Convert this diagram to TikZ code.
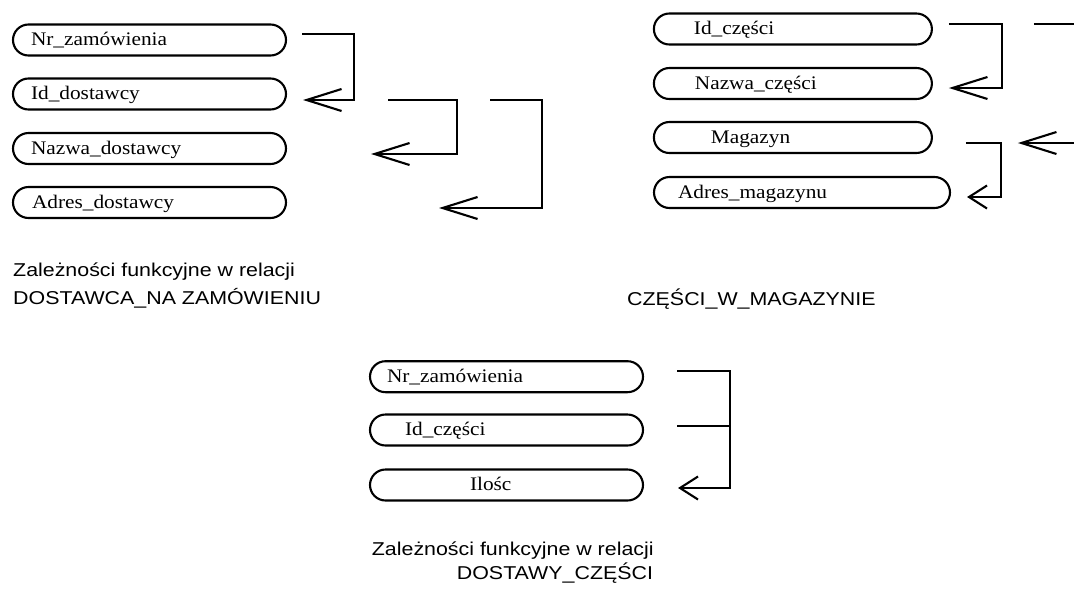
\documentclass[tikz,border=0pt]{standalone}
\usepackage{fontspec}
\newfontfamily\attrfont[FakeStretch=1.11]{Liberation Serif}
\newfontfamily\capfont[FakeStretch=1.15]{Liberation Sans}
\usepackage{tikz}
\usetikzlibrary{arrows.meta}
\tikzstyle{attr}=[draw,line width=2.1pt,rectangle,rounded corners=15.5pt,minimum height=31pt,inner xsep=0pt,inner ysep=0pt,text height=14pt,text depth=3pt,align=left,font=\attrfont\fontsize{19.2pt}{22pt}\selectfont]
\tikzstyle{fd}=[draw,line width=2.1pt,-{Straight Barb[length=35pt,width=22pt]}]
\tikzstyle{fdshort}=[draw,line width=2.1pt,-{Straight Barb[length=18pt,width=23pt]}]
\tikzstyle{fdline}=[draw,line width=2.1pt]
\tikzset{relname/.style={anchor=base west,inner sep=0pt,font=\capfont\fontsize{18.6pt}{22pt}\selectfont}}

\begin{document}
\begin{tikzpicture}[x=1pt,y=-1pt]

   \useasboundingbox (0,0) rectangle (1074,592);

   % DOSTAWCA_NA ZAMOWIENIU
   \foreach \name/\y/\ind/\label in {nrz/40/18/Nr\_zamówienia, idd/94/18/Id\_dostawcy, nzd/148.5/18/Nazwa\_dostawcy, adr/202.5/19/Adres\_dostawcy}
          \node[attr,text width=273pt] (\name) at (149.5,\y) {\hspace*{\ind pt}\label};

   \draw[fd] ([xshift=15pt,yshift=6pt]nrz.east) -- ++(52,0) |- ([xshift=16pt,yshift=-6pt]idd.east);
   \draw[fd] ([xshift=101pt,yshift=-6pt]idd.east) -- ++(69,0) |- ([xshift=84pt,yshift=-5.5pt]nzd.east);
   \draw[fd] ([xshift=203pt,yshift=-6pt]idd.east) -- ++(52,0) |- ([xshift=152pt,yshift=-5.5pt]adr.east);

   \node[relname] (cap1a) at (13,276) {Zależności funkcyjne w relacji};
   \node[relname] (cap1b) at (13,304) {DOSTAWCA\_NA ZAMÓWIENIU};

   % CZESCI_W_MAGAZYNIE
   \foreach \x/\y/\w/\ind/\name/\label in {792.9/29/278/40/idc/Id\_części, 792.9/83.5/278/41/nzc/Nazwa\_części, 792.9/137.5/278/57/mag/Magazyn, 802/192.5/296/24/adm/Adres\_magazynu}
          \node[attr,text width=\w pt] (\name) at (\x,\y) {\hspace*{\ind pt}\label};

   \draw[fd] ([xshift=16pt,yshift=5pt]idc.east) -- ++(53,0) |- ([xshift=16pt,yshift=-4.5pt]nzc.east);
   \draw[fdline] ([xshift=101pt,yshift=5pt]idc.east) -- ++(41,0);
   \draw[fd] ([xshift=142pt,yshift=-5.5pt]mag.east) -- ([xshift=85pt,yshift=-5.5pt]mag.east);
   \draw[fdshort] ([xshift=33pt,yshift=-5.5pt]mag.east) -- ++(35,0) |- ([xshift=16pt,yshift=-4.5pt]adm.east);

   \node[relname] (cap2) at (627,305) {CZĘŚCI\_W\_MAGAZYNIE};

   % DOSTAWY_CZESCI
   \foreach \name/\y/\ind/\label in {bnr/376.7/17/Nr\_zamówienia, bid/430/35/Id\_części, ilo/485/100/Ilośc}
          \node[attr,text width=273pt] (\name) at (506.5,\y) {\hspace*{\ind pt}\label};

   \draw[fdshort] ([xshift=33pt,yshift=5.7pt]bnr.east) -- ++(53,0) |- ([xshift=34pt,yshift=-3pt]ilo.east);
   \draw[fdline] ([xshift=33pt,yshift=4pt]bid.east) -- ++(53,0);

   \node[relname] (cap3a) at (371.7,555) {Zależności funkcyjne w relacji};
   \node[relname] (cap3b) at (456.7,579) {DOSTAWY\_CZĘŚCI};

\end{tikzpicture}
\end{document}
